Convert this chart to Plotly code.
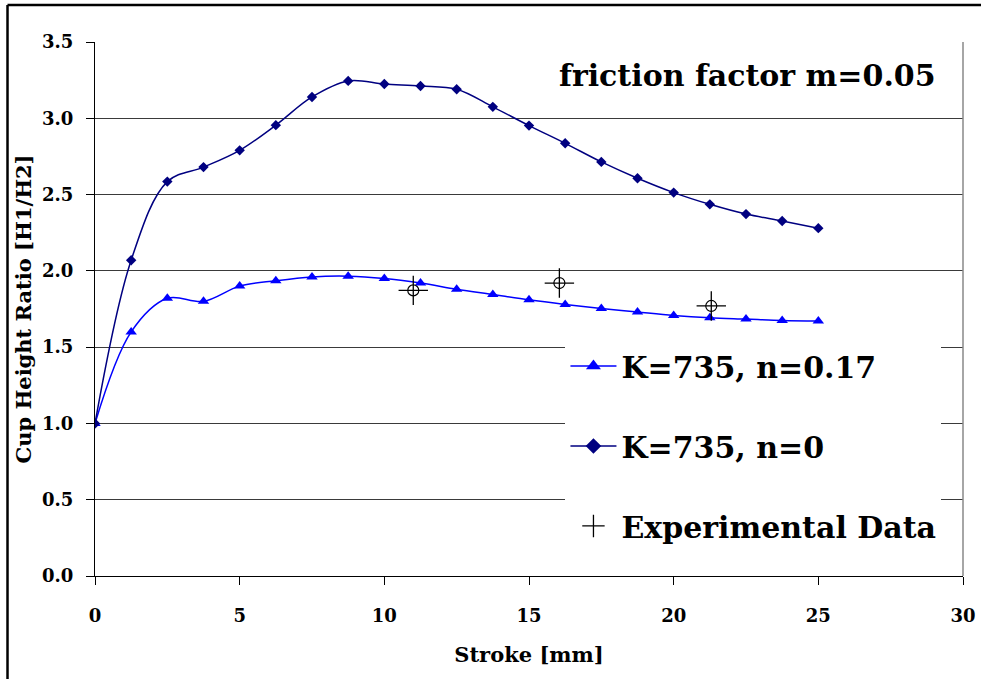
import plotly.graph_objects as go

# Stroke positions (mm) of the simulated points
stroke = [0, 1.25, 2.5, 3.75, 5, 6.25, 7.5, 8.75, 10, 11.25, 12.5, 13.75,
          15, 16.25, 17.5, 18.75, 20, 21.25, 22.5, 23.75, 25]

# Cup height ratio H1/H2, K=735, n=0.17
ratio_n017 = [1.00, 1.60, 1.82, 1.80, 1.90, 1.935, 1.96, 1.965, 1.95, 1.92, 1.88,
              1.845, 1.81, 1.78, 1.753, 1.73, 1.708, 1.693, 1.684, 1.675, 1.671]

# Cup height ratio H1/H2, K=735, n=0
ratio_n0 = [1.00, 2.07, 2.585, 2.68, 2.79, 2.955, 3.14, 3.245, 3.225, 3.212, 3.19,
            3.075, 2.952, 2.836, 2.714, 2.607, 2.513, 2.436, 2.372, 2.327, 2.28]

# Measured values
exp_stroke = [11.0, 16.05, 21.3]
exp_ratio = [1.872, 1.92, 1.77]

x_ticks = [0, 5, 10, 15, 20, 25, 30]
y_ticks = [0.0, 0.5, 1.0, 1.5, 2.0, 2.5, 3.0, 3.5]

BLUE = "#0000FF"
NAVY = "#000080"
SERIF = "DejaVu Serif"

fig = go.Figure()

# Curves (legend entries are drawn separately with larger symbols)
fig.add_trace(go.Scatter(
    x=stroke, y=ratio_n017, mode="lines+markers", showlegend=False,
    line=dict(color=BLUE, width=1.5, shape="spline", smoothing=1.0),
    marker=dict(symbol="triangle-up", size=10, color=BLUE),
))
fig.add_trace(go.Scatter(
    x=stroke, y=ratio_n0, mode="lines+markers", showlegend=False,
    line=dict(color=NAVY, width=1.5, shape="spline", smoothing=1.0),
    marker=dict(symbol="diamond", size=8, color=NAVY),
))
# Experimental points: open circle with a crosshair through it
fig.add_trace(go.Scatter(
    x=exp_stroke, y=exp_ratio, mode="markers", showlegend=False,
    marker=dict(symbol="circle-open", size=11, color="black", line=dict(width=1.2)),
))
fig.add_trace(go.Scatter(
    x=exp_stroke, y=exp_ratio, mode="markers", showlegend=False,
    marker=dict(symbol="cross-thin-open", size=21, color="black", line=dict(width=1.3)),
))

# Legend entries
fig.add_trace(go.Scatter(
    x=[None], y=[None], mode="lines+markers", name="K=735, n=0.17", legendgroup="a",
    line=dict(color=BLUE, width=1.5),
    marker=dict(symbol="triangle-up", size=13, color=BLUE),
))
fig.add_trace(go.Scatter(
    x=[None], y=[None], mode="lines+markers", name="K=735, n=0", legendgroup="b",
    line=dict(color=NAVY, width=1.5),
    marker=dict(symbol="diamond", size=12, color=NAVY),
))
fig.add_trace(go.Scatter(
    x=[None], y=[None], mode="markers", name="Experimental Data", legendgroup="c",
    marker=dict(symbol="cross-thin-open", size=16, color="black", line=dict(width=1.3)),
))

fig.add_annotation(
    text="friction factor m=0.05", xref="paper", yref="paper",
    x=0.971, y=0.938, xanchor="right", yanchor="middle", showarrow=False,
    font=dict(family=SERIF, size=30, color="black", weight="bold"),
)

# Outer frame (top and left edges) and right edge of the plot area
fig.add_shape(type="line", xref="paper", yref="paper",
              x0=-0.1008, x1=1.05, y0=1.0693, y1=1.0693,
              line=dict(color="black", width=2.5))
fig.add_shape(type="line", xref="paper", yref="paper",
              x0=-0.1008, x1=-0.1008, y0=-0.25, y1=1.0693,
              line=dict(color="black", width=2.5))
fig.add_shape(type="line", xref="paper", yref="paper",
              x0=1, x1=1, y0=0, y1=1, line=dict(color="#888888", width=1.5))

axis_font = dict(family=SERIF, size=18, color="black", weight="bold")
title_font = dict(family=SERIF, size=21, color="black", weight="bold")

fig.update_layout(
    width=981, height=679,
    margin=dict(l=95, r=18, t=42, b=103, autoexpand=False),
    paper_bgcolor="white", plot_bgcolor="white",
    showlegend=True,
    legend=dict(
        x=0.542, y=0.442, xanchor="left", yanchor="top",
        bgcolor="white", borderwidth=0,
        font=dict(family=SERIF, size=30, color="black", weight="bold"),
        itemwidth=46, tracegroupgap=38, traceorder="grouped",
    ),
    xaxis=dict(
        range=[0, 30], tickvals=x_ticks, ticktext=[str(v) for v in x_ticks],
        showgrid=False, zeroline=False, automargin=False,
        showline=True, linecolor="black", linewidth=1.2,
        ticks="outside", ticklen=8, tickcolor="black",
        tickfont=axis_font, ticklabelstandoff=15,
        title=dict(text="Stroke [mm]", font=title_font, standoff=22),
    ),
    yaxis=dict(
        range=[0, 3.5], tickvals=y_ticks, ticktext=[f"{v:.1f}" for v in y_ticks],
        showgrid=True, gridcolor="#3a3a3a", gridwidth=1, zeroline=False, automargin=False,
        showline=True, linecolor="black", linewidth=1.2,
        ticks="outside", ticklen=8, tickcolor="black",
        tickfont=axis_font, ticklabelstandoff=9,
        title=dict(text="Cup Height Ratio [H1/H2]", font=title_font, standoff=4),
    ),
)

fig.write_html("out.html")
